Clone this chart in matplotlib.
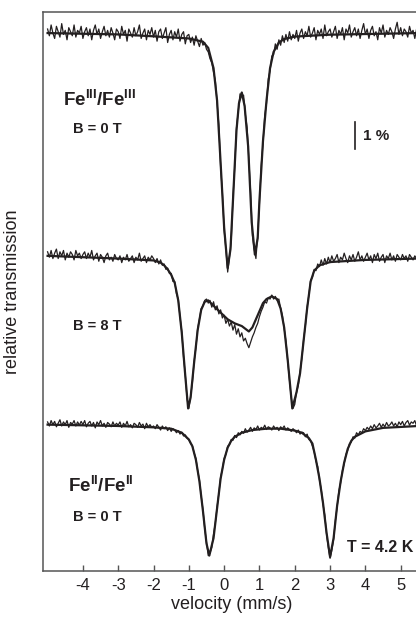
import numpy as np
import matplotlib
matplotlib.use("Agg")
import matplotlib.pyplot as plt

plt.rcParams["font.family"] = ["Liberation Sans", "DejaVu Sans"]
plt.rcParams["mathtext.fontset"] = "custom"
plt.rcParams["mathtext.rm"] = "Liberation Sans"
plt.rcParams["mathtext.bf"] = "Liberation Sans:bold"
plt.rcParams["axes.unicode_minus"] = False

ink = "#231f20"

# measured data, velocity grid -5.0 ... 5.5 mm/s in 0.05 steps
v_data = np.round(np.arange(-5.0, 5.5001, 0.05), 2)

# relative transmission (%) around each baseline
fe3_0T_data = [
    0.15, -0.10, 0.30, 0.00, -0.20, 0.25, 0.05, -0.15, 0.35, -0.05, 0.10, -0.25, 0.20, 0.05, -0.10, 0.30, -0.15, 0.10, 0.00, 0.25,
    -0.20, 0.05, 0.20, -0.10, 0.15, -0.25, 0.10, 0.30, -0.05, 0.15, -0.20, 0.05, 0.25, -0.10, 0.10, -0.15, 0.20, 0.00, -0.25, 0.15,
    0.05, -0.20, 0.25, -0.05, 0.10, -0.30, 0.15, 0.00, -0.15, 0.20, -0.10, 0.05, 0.30, -0.20, 0.00, 0.15, -0.25, 0.10, -0.05, 0.20,
    -0.15, 0.10, -0.30, 0.05, 0.15, -0.20, 0.00, 0.20, -0.35, -0.05, 0.10, -0.25, 0.05, -0.15, 0.15, -0.30, -0.05, 0.05, -0.40, -0.10,
    -0.05, -0.35, -0.15, -0.45, -0.10, -0.30, -0.50, -0.20, -0.45, -0.35, -0.60, -0.70, -0.95, -1.10, -1.45, -1.75, -2.60, -3.40, -4.95, -5.90,
    -7.30, -8.00, -8.85, -8.30, -7.70, -6.10, -4.95, -3.50, -2.90, -2.25, -2.30, -2.30, -3.00, -3.50, -4.70, -5.90, -7.50, -8.00, -8.35, -7.50,
    -6.30, -4.90, -4.10, -3.05, -2.60, -1.70, -1.40, -0.85, -0.80, -0.40, -0.60, -0.25, -0.45, -0.10, -0.35, -0.05, -0.30, 0.05, -0.25, -0.05,
    -0.20, 0.10, -0.30, 0.00, 0.15, -0.20, 0.05, -0.10, 0.25, -0.15, 0.00, 0.20, -0.25, 0.10, -0.05, 0.15, -0.20, 0.30, -0.10, 0.05,
    0.15, -0.15, 0.05, 0.25, -0.20, 0.10, -0.05, 0.20, -0.25, 0.15, 0.00, 0.30, -0.15, 0.05, 0.20, -0.10, 0.15, -0.20, 0.10, 0.35,
    -0.05, 0.15, -0.20, 0.10, 0.25, -0.10, 0.05, -0.25, 0.20, 0.00, 0.30, -0.15, 0.10, -0.05, 0.20, 0.05, -0.20, 0.15, 0.40, -0.05,
    0.20, -0.10, 0.15, 0.05, -0.15, 0.25, 0.00, 0.10, -0.20, 0.15, 0.05,
]
fe3_8T_data = [
    0.20, 0.00, 0.25, -0.05, 0.15, 0.30, -0.05, 0.20, 0.05, 0.25, -0.10, 0.15, 0.00, 0.20, 0.10, -0.10, 0.25, 0.05, 0.15, -0.05,
    0.10, 0.20, -0.05, 0.15, 0.00, 0.25, -0.10, 0.05, 0.15, -0.15, 0.10, 0.00, -0.20, 0.05, 0.15, -0.10, 0.00, -0.15, 0.10, -0.05,
    -0.10, 0.05, -0.20, 0.00, -0.10, 0.10, -0.15, -0.05, 0.05, -0.20, 0.00, -0.10, 0.15, -0.15, -0.05, 0.05, -0.20, 0.00, -0.10, 0.05,
    -0.05, -0.20, -0.05, -0.25, -0.10, -0.30, -0.25, -0.45, -0.40, -0.60, -0.60, -0.90, -0.90, -1.35, -1.55, -2.20, -2.75, -3.70, -4.35, -5.25,
    -5.60, -5.15, -4.65, -3.85, -3.35, -2.65, -2.30, -1.90, -1.80, -1.60, -1.55, -1.70, -1.60, -1.85, -1.65, -1.95, -1.80, -2.10, -1.95, -2.25,
    -2.15, -2.45, -2.30, -2.55, -2.40, -2.70, -2.50, -2.85, -2.65, -2.95, -2.80, -3.10, -3.00, -3.20, -3.35, -3.15, -2.95, -2.80, -2.60, -2.45,
    -2.20, -2.00, -1.85, -1.65, -1.70, -1.50, -1.55, -1.40, -1.55, -1.45, -1.60, -1.55, -1.90, -2.15, -2.65, -3.10, -3.85, -4.55, -5.20, -5.60,
    -5.45, -5.00, -4.75, -4.25, -3.75, -3.05, -2.55, -1.85, -1.40, -0.85, -0.75, -0.45, -0.50, -0.25, -0.35, -0.10, -0.30, -0.05, -0.25, 0.00,
    -0.20, 0.05, -0.15, -0.05, 0.10, -0.20, 0.00, -0.10, 0.15, -0.05, -0.20, 0.05, -0.10, 0.10, -0.15, 0.00, 0.20, -0.10, 0.05, -0.15,
    0.00, 0.15, -0.10, 0.05, -0.20, 0.10, -0.05, 0.15, -0.15, 0.00, 0.10, -0.20, 0.05, -0.05, 0.15, -0.10, 0.05, -0.15, 0.10, 0.00,
    -0.10, 0.10, -0.05, 0.05, -0.15, 0.10, 0.00, -0.10, 0.05, -0.05, 0.10,
]
fe2_0T_data = [
    0.10, -0.05, 0.15, 0.00, 0.12, -0.08, 0.05, 0.18, -0.05, 0.10, 0.00, 0.15, -0.10, 0.08, 0.02, 0.15, -0.05, 0.10, -0.02, 0.12,
    0.00, 0.15, -0.08, 0.05, 0.12, -0.05, 0.08, -0.12, 0.10, 0.00, 0.15, -0.05, 0.05, -0.10, 0.08, 0.02, -0.08, 0.10, -0.05, 0.05,
    -0.02, 0.10, -0.10, 0.05, -0.05, 0.12, -0.08, 0.00, -0.12, 0.05, 0.00, -0.10, 0.08, -0.05, 0.02, -0.15, 0.05, -0.08, 0.00, -0.10,
    -0.05, -0.15, 0.00, -0.10, -0.20, -0.05, -0.15, -0.08, -0.22, -0.12, -0.25, -0.15, -0.20, -0.30, -0.22, -0.35, -0.28, -0.42, -0.38, -0.50,
    -0.55, -0.70, -0.78, -1.05, -1.25, -1.70, -2.05, -2.65, -3.15, -3.85, -4.35, -4.85, -4.75, -4.55, -4.05, -3.65, -3.05, -2.55, -1.95, -1.65,
    -1.25, -1.10, -0.80, -0.75, -0.55, -0.58, -0.40, -0.48, -0.30, -0.38, -0.25, -0.32, -0.15, -0.28, -0.20, -0.10, -0.25, -0.12, -0.18, -0.05,
    -0.20, -0.10, -0.15, -0.02, -0.18, -0.08, -0.12, -0.20, -0.05, -0.15, -0.10, -0.22, -0.08, -0.15, -0.05, -0.20, -0.12, -0.18, -0.25, -0.15,
    -0.22, -0.30, -0.20, -0.35, -0.28, -0.30, -0.45, -0.35, -0.55, -0.60, -0.80, -1.00, -1.35, -1.55, -2.05, -2.40, -2.95, -3.35, -4.05, -4.55,
    -4.95, -4.65, -4.25, -3.55, -3.05, -2.45, -2.15, -1.70, -1.45, -1.10, -0.95, -0.70, -0.65, -0.45, -0.50, -0.30, -0.38, -0.25, -0.30, -0.15,
    -0.22, -0.10, -0.18, -0.05, -0.15, 0.00, -0.12, -0.05, 0.05, -0.10, 0.02, -0.08, 0.08, -0.05, 0.00, 0.10, -0.05, 0.05, -0.08, 0.10,
    0.00, 0.12, -0.05, 0.08, 0.15, -0.02, 0.10, 0.05, 0.15, -0.05, 0.10,
]

# fitted curves (velocity, relative transmission %)
fe3_0T_fit_v = [-5.0, -3.0, -2.0, -1.0, -0.6, -0.45, -0.3, -0.2, -0.1, 0.0,
                0.1, 0.18, 0.25, 0.35, 0.42, 0.5, 0.58, 0.68, 0.78, 0.87,
                0.95, 1.0, 1.1, 1.2, 1.3, 1.4, 1.55, 1.7, 2.0, 3.0, 5.5]
fe3_0T_fit = [0.0, -0.05, -0.12, -0.2, -0.32, -0.55, -1.3, -2.5, -4.8, -7.2,
              -8.7, -8.0, -6.2, -3.6, -2.6, -2.2, -2.7, -4.2, -7.0, -8.2,
              -7.6, -6.2, -4.0, -2.5, -1.3, -0.7, -0.35, -0.22, -0.13, -0.06, 0.0]

fe3_8T_fit_v = [-5.0, -3.0, -2.0, -1.8, -1.7, -1.6, -1.5, -1.4, -1.3, -1.2,
                -1.1, -1.02, -0.95, -0.85, -0.75, -0.65, -0.55, -0.45, -0.3, -0.1,
                0.1, 0.3, 0.5, 0.6, 0.7, 0.8, 0.9, 1.0, 1.1, 1.2,
                1.35, 1.5, 1.6, 1.7, 1.8, 1.93, 2.05, 2.15, 2.25, 2.35,
                2.45, 2.55, 2.7, 3.0, 4.0, 5.5]
fe3_8T_fit = [0.05, -0.05, -0.12, -0.2, -0.3, -0.45, -0.65, -0.95, -1.6, -2.8,
              -4.4, -5.6, -5.2, -3.9, -2.7, -1.95, -1.65, -1.6, -1.8, -2.05,
              -2.3, -2.45, -2.55, -2.65, -2.75, -2.6, -2.3, -2.0, -1.7, -1.55,
              -1.45, -1.55, -1.9, -2.6, -3.8, -5.6, -5.0, -4.3, -3.1, -1.9,
              -0.9, -0.5, -0.3, -0.18, -0.1, -0.05]

fe2_0T_fit_v = [-5.0, -3.0, -2.0, -1.5, -1.2, -1.0, -0.9, -0.8, -0.7, -0.6,
                -0.5, -0.42, -0.3, -0.2, -0.1, 0.0, 0.1, 0.2, 0.3, 0.5,
                0.8, 1.2, 1.6, 2.0, 2.2, 2.4, 2.5, 2.6, 2.7, 2.8,
                2.9, 3.0, 3.1, 3.2, 3.3, 3.4, 3.5, 3.6, 3.7, 4.0,
                4.5, 5.5]
fe2_0T_fit = [0.0, -0.05, -0.1, -0.15, -0.3, -0.55, -0.8, -1.3, -2.1, -3.2,
              -4.4, -4.85, -4.2, -3.1, -2.0, -1.3, -0.85, -0.6, -0.45, -0.3,
              -0.2, -0.15, -0.15, -0.22, -0.3, -0.5, -0.7, -1.3, -2.0, -2.9,
              -4.0, -4.9, -4.2, -3.0, -2.1, -1.4, -0.9, -0.6, -0.45, -0.25,
              -0.12, -0.05]

# vertical offsets of the three spectra (%)
offsets = [0.0, -8.3, -14.5]

fig = plt.figure(figsize=(4.16, 6.17), dpi=100)
ax = fig.add_axes([43 / 416, 46 / 617, 393 / 416, 559 / 617])

datasets = [
    (fe3_0T_data, fe3_0T_fit_v, fe3_0T_fit),
    (fe3_8T_data, fe3_8T_fit_v, fe3_8T_fit),
    (fe2_0T_data, fe2_0T_fit_v, fe2_0T_fit),
]
for (d, fv, f), off in zip(datasets, offsets):
    ax.plot(v_data, np.array(d) + off, color=ink, lw=0.9)
    ax.plot(fv, np.array(f) + off, color=ink, lw=1.6)

ax.set_xlim(-5.13, 6.0)
ax.set_ylim(-19.92, 0.78)
ax.set_xticks([-4, -3, -2, -1, 0, 1, 2, 3, 4, 5])
ax.set_yticks([])
ax.tick_params(axis="x", direction="in", length=4, width=1, color="#555555",
               labelsize=12, pad=5, labelcolor=ink)
for s in ax.spines.values():
    s.set_color("#555555")
    s.set_linewidth(1.1)

ax.set_xlabel("velocity (mm/s)", fontsize=13, color=ink, labelpad=1)
ax.xaxis.set_label_coords((232 - 43) / 393, -0.045)
ax.set_ylabel("relative transmission", fontsize=13, color=ink)
ax.yaxis.set_label_coords(-0.055, 0.5)

tk = dict(color=ink, fontweight="bold", ha="left", va="center")
ax.text(-4.56, -2.48, r"Fe$^{\mathbf{III}}$/Fe$^{\mathbf{III}}$", fontsize=13.5, **tk)
ax.text(-4.28, -3.55, "B = 0 T", fontsize=10.5, **tk)
ax.text(3.94, -3.81, "1 %", fontsize=11, **tk)
ax.plot([3.71, 3.71], [-3.29, -4.29], color=ink, lw=1.2)
ax.text(-4.28, -10.85, "B = 8 T", fontsize=10.5, **tk)
ax.text(-4.42, -16.74, r"Fe$^{\mathbf{II}}$/Fe$^{\mathbf{II}}$", fontsize=13.5, **tk)
ax.text(-4.28, -17.92, "B = 0 T", fontsize=10.5, **tk)
ax.text(3.48, -19.04, "T = 4.2 K", fontsize=11.5, **tk)

fig.savefig("out.png", dpi=100)
